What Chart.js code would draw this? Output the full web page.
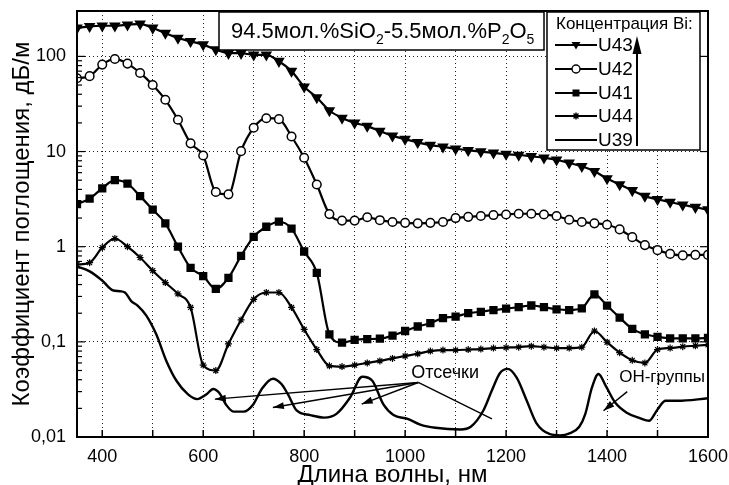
<!DOCTYPE html>
<html>
<head>
<meta charset="utf-8">
<script src="https://cdn.jsdelivr.net/npm/chart.js"></script>
<style>
  html, body { margin: 0; padding: 0; background: #fff; }
  #grafico { display: block; }
</style>
</head>
<body>
<canvas id="grafico" width="729" height="485"></canvas>
<script>
// Longitudes de onda con marcadores (cada 25 nm)
const longitudesOnda = [350, 375, 400, 425, 450, 475, 500, 525, 550, 575, 600, 625, 650, 675, 700, 725, 750, 775, 800, 825,
  850, 875, 900, 925, 950, 975, 1000, 1025, 1050, 1075, 1100, 1125, 1150, 1175, 1200, 1225, 1250, 1275, 1300, 1325,
  1350, 1375, 1400, 1425, 1450, 1475, 1500, 1525, 1550, 1575, 1600];

const u43 = [199, 207, 210, 210, 215, 220, 199, 176, 156, 144, 133, 118, 108, 108, 104, 104, 89, 70, 48, 37,
  27, 22.5, 20, 18.5, 16.4, 14.6, 13.5, 12.5, 11.7, 11.2, 10.7, 10.3, 10, 9.7, 9.4, 9.2, 8.9, 8.6, 8.2, 7.6,
  7.0, 6.2, 5.2, 4.5, 3.9, 3.4, 3.15, 2.95, 2.75, 2.6, 2.45];

const u42 = [59, 62, 82, 94, 84, 67, 50, 35, 21.6, 12.2, 9.1, 3.76, 3.55, 10.1, 17.8, 22.4, 21.9, 14.4, 8.6, 4.5,
  2.2, 1.88, 1.88, 2.04, 1.9, 1.82, 1.78, 1.76, 1.78, 1.82, 2.0, 2.06, 2.1, 2.15, 2.18, 2.22, 2.22, 2.18, 2.1, 1.92,
  1.82, 1.76, 1.7, 1.52, 1.26, 1.04, 0.92, 0.84, 0.81, 0.82, 0.82];

const u41 = [2.8, 3.2, 4.1, 5.0, 4.6, 3.4, 2.45, 1.76, 1.0, 0.6, 0.49, 0.36, 0.47, 0.8, 1.27, 1.62, 1.83, 1.55, 0.89, 0.53,
  0.12, 0.098, 0.105, 0.107, 0.108, 0.116, 0.13, 0.145, 0.157, 0.178, 0.184, 0.2, 0.207, 0.216, 0.223, 0.232, 0.241, 0.232, 0.22, 0.216,
  0.225, 0.316, 0.24, 0.18, 0.137, 0.12, 0.113, 0.109, 0.109, 0.109, 0.11];

const u44 = [0.65, 0.68, 0.98, 1.22, 1.0, 0.77, 0.56, 0.42, 0.32, 0.23, 0.057, 0.05, 0.095, 0.17, 0.28, 0.33, 0.33, 0.23, 0.135, 0.083,
  0.056, 0.055, 0.057, 0.06, 0.063, 0.067, 0.071, 0.075, 0.08, 0.082, 0.082, 0.083, 0.084, 0.086, 0.087, 0.088, 0.09, 0.088, 0.086, 0.086,
  0.088, 0.13, 0.099, 0.077, 0.064, 0.06, 0.083, 0.086, 0.089, 0.091, 0.093];

// U39 sin marcadores, muestreo irregular
const longitudesU39 = [350, 375, 400, 420, 435, 445, 457, 470, 487, 507, 527, 547, 570, 588, 606, 620, 632, 645, 660, 680,
  699, 716, 738, 755, 768, 785, 812, 840, 864, 891, 915, 935, 957, 977, 1005, 1030, 1060, 1110, 1130, 1155,
  1172, 1188, 1203, 1221, 1241, 1260, 1287, 1307, 1327, 1345, 1357, 1370, 1383, 1398, 1416, 1439, 1466, 1483, 1500, 1516,
  1540, 1600];
const u39 = [0.62, 0.55, 0.44, 0.35, 0.34, 0.33, 0.27, 0.24, 0.19, 0.12, 0.063, 0.039, 0.028, 0.025, 0.028, 0.032, 0.029, 0.022, 0.0185, 0.0185,
  0.022, 0.032, 0.041, 0.036, 0.028, 0.019, 0.017, 0.016, 0.0175, 0.026, 0.043, 0.039, 0.022, 0.017, 0.0155, 0.0135, 0.0125, 0.012, 0.0128, 0.019,
  0.031, 0.047, 0.052, 0.042, 0.024, 0.014, 0.0107, 0.0104, 0.011, 0.0128, 0.0175, 0.033, 0.046, 0.034, 0.023, 0.018, 0.0157, 0.0148, 0.0195, 0.024,
  0.024, 0.0255];

const series = ['U43', 'U42', 'U41', 'U44', 'U39'];
const xTicks = [400, 500, 600, 700, 800, 900, 1000, 1100, 1200, 1300, 1400, 1500, 1600];
const yTicks = [0.01, 0.1, 1, 10, 100];
const yTickLabels = ['0,01', '0,1', '1', '10', '100'];

// Anotaciones en unidades de datos [nm, valor]
const origenOtsechki = [1026, 0.0374];
const destinosOtsechki = [[623, 0.025], [738, 0.0204], [914, 0.0222]];
const lineaOtsechki = [1172, 0.0155];
const textoOtsechki = [1012, 0.0422];
const flechaOH = [[1440, 0.030], [1393, 0.0189]];
const textoOH = [1424, 0.0376];

const FUENTE = "'Liberation Sans', Arial, sans-serif";

const puntos = (xs, ys) => xs.map((x, i) => ({ x, y: ys[i] }));

function serie(nombre, xs, ys, extra) {
  return Object.assign({
    label: nombre,
    data: puntos(xs, ys),
    borderColor: '#000',
    backgroundColor: '#000',
    borderWidth: 2.2,
    cubicInterpolationMode: 'monotone',
    pointBorderColor: '#000',
    pointBackgroundColor: '#000'
  }, extra);
}

// Dibuja un marcador a mano (para la leyenda)
function marcador(ctx, tipo, x, y) {
  ctx.save();
  ctx.fillStyle = '#000';
  ctx.strokeStyle = '#000';
  ctx.lineWidth = 1.4;
  ctx.beginPath();
  if (tipo === 'tri') {
    ctx.moveTo(x - 4.5, y - 3); ctx.lineTo(x + 4.5, y - 3); ctx.lineTo(x, y + 4.5); ctx.closePath(); ctx.fill();
  } else if (tipo === 'circ') {
    ctx.arc(x, y, 4, 0, Math.PI * 2); ctx.fillStyle = '#fff'; ctx.fill(); ctx.stroke();
  } else if (tipo === 'cuad') {
    ctx.rect(x - 3.5, y - 3.5, 7, 7); ctx.fill();
  } else if (tipo === 'estrella') {
    for (let k = 0; k < 4; k++) {
      const a = k * Math.PI / 4;
      ctx.moveTo(x - Math.cos(a) * 3.5, y - Math.sin(a) * 3.5);
      ctx.lineTo(x + Math.cos(a) * 3.5, y + Math.sin(a) * 3.5);
    }
    ctx.stroke();
  }
  ctx.restore();
}

function flecha(ctx, x1, y1, x2, y2, conPunta) {
  ctx.beginPath();
  ctx.moveTo(x1, y1);
  ctx.lineTo(x2, y2);
  ctx.stroke();
  if (!conPunta) return;
  const ang = Math.atan2(y2 - y1, x2 - x1);
  const L = 11, W = 3.5;
  ctx.beginPath();
  ctx.moveTo(x2, y2);
  ctx.lineTo(x2 - L * Math.cos(ang) + W * Math.sin(ang), y2 - L * Math.sin(ang) - W * Math.cos(ang));
  ctx.lineTo(x2 - L * Math.cos(ang) - W * Math.sin(ang), y2 - L * Math.sin(ang) + W * Math.cos(ang));
  ctx.closePath();
  ctx.fill();
}

const decorado = {
  id: 'decorado',
  beforeDraw(chart) {
    const ctx = chart.ctx;
    ctx.save();
    ctx.fillStyle = '#fff';
    ctx.fillRect(0, 0, chart.width, chart.height);
    ctx.restore();
  },
  afterDraw(chart) {
    const { ctx, chartArea: a, scales: { x, y } } = chart;
    ctx.save();
    ctx.strokeStyle = '#000';
    ctx.fillStyle = '#000';

    // marco
    ctx.lineWidth = 2;
    ctx.strokeRect(a.left, a.top, a.right - a.left, a.bottom - a.top);

    // marcas hacia dentro en el eje x
    ctx.lineWidth = 1.5;
    xTicks.forEach(v => {
      const px = x.getPixelForValue(v);
      ctx.beginPath(); ctx.moveTo(px, a.bottom); ctx.lineTo(px, a.bottom - 7); ctx.stroke();
    });
    // marcas menores y mayores en el eje log
    ctx.lineWidth = 1.2;
    yTicks.forEach(d => {
      for (let m = 1; m <= 9; m++) {
        const v = d * m;
        if (v > y.max) break;
        const py = y.getPixelForValue(v);
        const largo = m === 1 ? 8 : 5;
        ctx.beginPath(); ctx.moveTo(a.left, py); ctx.lineTo(a.left + largo, py); ctx.stroke();
        if (m === 1) { ctx.beginPath(); ctx.moveTo(a.right, py); ctx.lineTo(a.right - largo, py); ctx.stroke(); }
      }
    });

    // anotaciones "Отсечки"
    ctx.lineWidth = 1.4;
    const ox = x.getPixelForValue(origenOtsechki[0]);
    const oy = y.getPixelForValue(origenOtsechki[1]);
    destinosOtsechki.forEach(([dx, dy]) => {
      flecha(ctx, ox, oy, x.getPixelForValue(dx), y.getPixelForValue(dy), true);
    });
    flecha(ctx, ox, oy, x.getPixelForValue(lineaOtsechki[0]), y.getPixelForValue(lineaOtsechki[1]), false);
    ctx.font = '18px ' + FUENTE;
    ctx.textBaseline = 'alphabetic';
    ctx.textAlign = 'left';
    ctx.fillText('Отсечки', x.getPixelForValue(textoOtsechki[0]), y.getPixelForValue(textoOtsechki[1]));

    // OH-группы
    flecha(ctx, x.getPixelForValue(flechaOH[0][0]), y.getPixelForValue(flechaOH[0][1]),
      x.getPixelForValue(flechaOH[1][0]), y.getPixelForValue(flechaOH[1][1]), true);
    ctx.font = '17px ' + FUENTE;
    ctx.fillText('OH-группы', x.getPixelForValue(textoOH[0]), y.getPixelForValue(textoOH[1]));

    // caja con la composición
    ctx.lineWidth = 1.5;
    ctx.fillStyle = '#fff';
    ctx.fillRect(219, 12, 325, 38);
    ctx.strokeRect(219, 12, 325, 38);
    ctx.fillStyle = '#000';
    const trozos = [['94.5мол.%SiO', 0], ['2', 1], ['-5.5мол.%P', 0], ['2', 1], ['O', 0], ['5', 1]];
    let cx = 231;
    trozos.forEach(([t, sub]) => {
      ctx.font = (sub ? '14px ' : '22px ') + FUENTE;
      ctx.fillText(t, cx, sub ? 44 : 38);
      cx += ctx.measureText(t).width;
    });

    // leyenda
    ctx.fillStyle = '#fff';
    ctx.fillRect(547, 12, 153, 138);
    ctx.strokeRect(547, 12, 153, 138);
    ctx.fillStyle = '#000';
    ctx.font = '17px ' + FUENTE;
    ctx.fillText('Концентрация Bi:', 556, 29);
    const tipos = ['tri', 'circ', 'cuad', 'estrella', null];
    const filas = [45, 69, 93, 116, 140];
    ctx.font = '19px ' + FUENTE;
    ctx.textBaseline = 'middle';
    series.forEach((nombre, i) => {
      const fy = filas[i];
      ctx.lineWidth = 2;
      ctx.beginPath(); ctx.moveTo(555, fy); ctx.lineTo(597, fy); ctx.stroke();
      if (tipos[i]) marcador(ctx, tipos[i], 576, fy);
      ctx.fillText(nombre, 598, fy + 1);
    });
    // flecha vertical de la leyenda
    ctx.lineWidth = 2;
    ctx.beginPath(); ctx.moveTo(637, 146); ctx.lineTo(637, 50); ctx.stroke();
    ctx.beginPath(); ctx.moveTo(637, 36); ctx.lineTo(641.5, 54); ctx.lineTo(632.5, 54); ctx.closePath(); ctx.fill();

    ctx.restore();
  }
};

new Chart(document.getElementById('grafico'), {
  type: 'line',
  data: {
    datasets: [
      serie('U43', longitudesOnda, u43, { pointStyle: 'triangle', rotation: 180, pointRadius: 4.5 }),
      serie('U42', longitudesOnda, u42, { pointStyle: 'circle', pointRadius: 4.3, pointBackgroundColor: '#fff', pointBorderWidth: 1.5 }),
      serie('U41', longitudesOnda, u41, { pointStyle: 'rect', pointRadius: 4.3 }),
      serie('U44', longitudesOnda, u44, { pointStyle: 'star', pointRadius: 3.5, pointBorderWidth: 1.2 }),
      serie('U39', longitudesU39, u39, { pointRadius: 0, borderWidth: 2.4 })
    ]
  },
  options: {
    responsive: false,
    animation: false,
    events: [],
    layout: { padding: { top: 11, right: 21, left: 0, bottom: 0 } },
    plugins: { legend: { display: false }, tooltip: { enabled: false } },
    scales: {
      x: {
        type: 'linear',
        min: 350,
        max: 1600,
        afterBuildTicks: s => { s.ticks = xTicks.map(v => ({ value: v })); },
        afterFit: s => { s.height = 48; s.paddingLeft = 0; s.paddingRight = 0; },
        ticks: {
          autoSkip: false,
          maxRotation: 0,
          padding: 9,
          color: '#000',
          font: { family: FUENTE, size: 18 },
          callback: v => (v % 200 === 0 ? String(v) : '')
        },
        grid: { color: '#222', lineWidth: 1, drawTicks: false },
        border: { display: false, dash: [1, 3] },
        title: {
          display: true,
          text: 'Длина волны, нм',
          color: '#000',
          font: { family: FUENTE, size: 24, lineHeight: 0.8 },
          padding: { top: 0, bottom: 0 }
        }
      },
      y: {
        type: 'logarithmic',
        min: 0.01,
        max: 300,
        afterBuildTicks: s => { s.ticks = yTicks.map(v => ({ value: v })); },
        afterFit: s => { s.width = 77; s.paddingTop = 0; s.paddingBottom = 0; },
        ticks: {
          padding: 11,
          color: '#000',
          font: { family: FUENTE, size: 18 },
          callback: (v, i) => yTickLabels[i]
        },
        grid: { color: '#222', lineWidth: 1, drawTicks: false },
        border: { display: false, dash: [1, 3] },
        title: {
          display: true,
          text: 'Коэффициент поглощения, дБ/м',
          color: '#000',
          font: { family: FUENTE, size: 24, lineHeight: 1 },
          padding: { top: 10, bottom: 0 }
        }
      }
    }
  },
  plugins: [decorado]
});
</script>
</body>
</html>
